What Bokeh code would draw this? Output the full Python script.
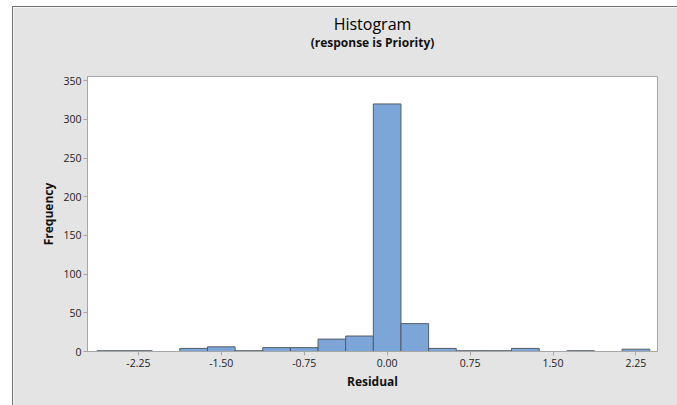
from bokeh.plotting import figure
from bokeh.models import Range1d, FixedTicker, Title, ColumnDataSource, Spacer
from bokeh.layouts import row, column
from bokeh.embed import file_html
from bokeh.resources import INLINE

# Data (bin width 0.25)
bin_centers = [-2.50, -2.25, -2.00, -1.75, -1.50, -1.25, -1.00, -0.75, -0.50, -0.25,
               0.00, 0.25, 0.50, 0.75, 1.00, 1.25, 1.50, 1.75, 2.00, 2.25]
frequency = [1, 1, 0, 4, 6, 1, 5, 5, 16, 20, 320, 36, 4, 1, 1, 4, 0, 1, 0, 3]
bin_width = 0.25
x_ticks = [-2.25, -1.50, -0.75, 0.00, 0.75, 1.50, 2.25]
y_ticks = [0, 50, 100, 150, 200, 250, 300, 350]

FONT = "Open Sans"
GRAY_BG = "#e4e4e4"

left = [c - bin_width / 2 for c, f in zip(bin_centers, frequency) if f > 0]
right = [c + bin_width / 2 for c, f in zip(bin_centers, frequency) if f > 0]
top = [f for f in frequency if f > 0]
src = ColumnDataSource(dict(left=left, right=right, top=top, bottom=[0] * len(top)))

p = figure(width=665, height=399, output_backend="svg", toolbar_location=None,
           x_range=Range1d(-2.71, 2.445), y_range=Range1d(0, 355.5),
           title="Histogram",
           min_border_left=74, min_border_right=21, min_border_top=69, min_border_bottom=55,
           styles={"border-left": "1px solid #707070", "border-top": "1px solid #707070"})

p.title.align = "center"
p.title.text_font = FONT
p.title.text_font_size = "16px"
p.title.text_font_style = "normal"
p.title.text_color = "#000000"
p.title.standoff = -6

# blank spacer title (nearest the frame), then the subtitle above it
spacer = Title(text=" ", align="center", text_font=FONT, text_font_size="1px", standoff=23)
p.add_layout(spacer, "above")
sub = Title(text="(response is Priority)", align="center", text_font=FONT,
            text_font_size="12px", text_font_style="bold", text_color="#111111",
            standoff=0)
p.add_layout(sub, "above")

p.quad(left="left", right="right", top="top", bottom="bottom", source=src,
       fill_color="#7da6d8", line_color="#515b68", line_width=1)

p.background_fill_color = "white"
p.border_fill_color = GRAY_BG
p.outline_line_color = "#a6a6a6"
p.outline_line_width = 1
p.xgrid.visible = False
p.ygrid.visible = False

p.xaxis.ticker = FixedTicker(ticks=x_ticks)
p.yaxis.ticker = FixedTicker(ticks=y_ticks)
p.xaxis.major_label_overrides = {t: f"{t:.2f}" for t in x_ticks}
p.xaxis.axis_label = "Residual"
p.yaxis.axis_label = "Frequency"

for ax in (p.xaxis, p.yaxis):
    ax.axis_line_color = "#a6a6a6"
    ax.major_tick_line_color = "#a6a6a6"
    ax.minor_tick_line_color = None
    ax.major_tick_out = 4
    ax.major_tick_in = 0
    ax.major_label_text_font = FONT
    ax.major_label_text_font_size = "10.5px"
    ax.major_label_text_color = "#222222"
    ax.axis_label_text_font = FONT
    ax.axis_label_text_font_size = "12px"
    ax.axis_label_text_font_style = "bold"
    ax.axis_label_text_color = "#111111"

p.xaxis.major_label_standoff = 3
p.xaxis.axis_label_standoff = 3
p.yaxis.major_label_standoff = 2
p.yaxis.axis_label_standoff = 3

layout = row(Spacer(width=12), column(Spacer(height=6), p))

open("out.html", "w").write(file_html(layout, INLINE))
